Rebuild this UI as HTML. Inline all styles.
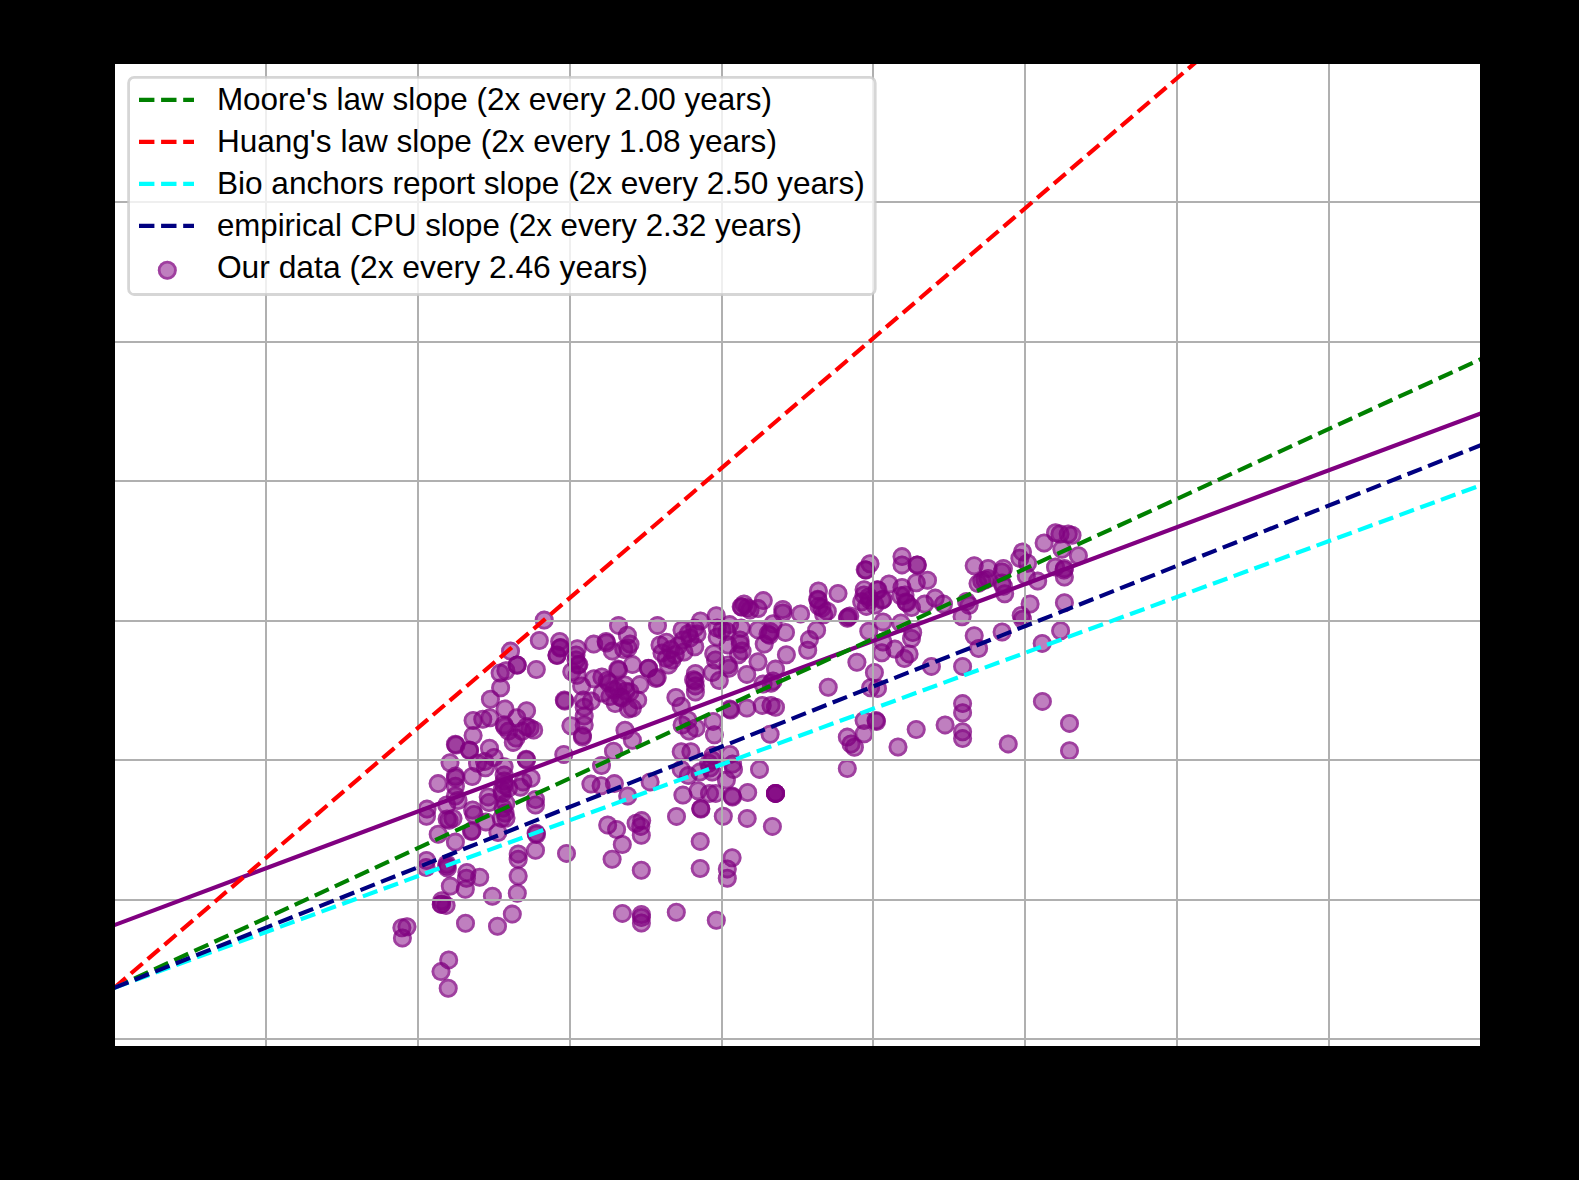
<!DOCTYPE html>
<html><head><meta charset="utf-8"><style>
html,body{margin:0;padding:0;background:#000;width:1579px;height:1180px;overflow:hidden}
svg{display:block;font-family:"Liberation Sans",sans-serif}
</style></head><body>
<svg width="1579" height="1180" viewBox="0 0 1579 1180">
<defs><clipPath id="ax"><rect x="115" y="64" width="1365" height="982"/></clipPath></defs>
<rect x="0" y="0" width="1579" height="1180" fill="#000"/>
<rect x="115" y="64" width="1365" height="982" fill="#fff"/>
<g clip-path="url(#ax)">
<g fill="#800080" fill-opacity="0.5">
<circle cx="401.9" cy="927.8" r="9.5"/>
<circle cx="407.0" cy="926.8" r="9.5"/>
<circle cx="402.4" cy="938.0" r="9.5"/>
<circle cx="441.7" cy="900.7" r="9.5"/>
<circle cx="441.2" cy="904.4" r="9.5"/>
<circle cx="441.5" cy="904.0" r="9.5"/>
<circle cx="446.1" cy="905.4" r="9.5"/>
<circle cx="450.3" cy="886.1" r="9.5"/>
<circle cx="465.3" cy="889.2" r="9.5"/>
<circle cx="492.4" cy="896.3" r="9.5"/>
<circle cx="517.3" cy="893.2" r="9.5"/>
<circle cx="512.3" cy="914.1" r="9.5"/>
<circle cx="497.5" cy="926.3" r="9.5"/>
<circle cx="465.5" cy="923.2" r="9.5"/>
<circle cx="448.7" cy="959.9" r="9.5"/>
<circle cx="441.0" cy="971.6" r="9.5"/>
<circle cx="448.2" cy="988.3" r="9.5"/>
<circle cx="622.4" cy="913.4" r="9.5"/>
<circle cx="641.4" cy="914.5" r="9.5"/>
<circle cx="641.4" cy="917.5" r="9.5"/>
<circle cx="641.4" cy="923.0" r="9.5"/>
<circle cx="676.3" cy="912.2" r="9.5"/>
<circle cx="716.3" cy="920.3" r="9.5"/>
<circle cx="427.0" cy="809.1" r="9.5"/>
<circle cx="426.5" cy="816.2" r="9.5"/>
<circle cx="426.5" cy="860.5" r="9.5"/>
<circle cx="426.1" cy="867.6" r="9.5"/>
<circle cx="447.1" cy="819.0" r="9.5"/>
<circle cx="449.1" cy="820.2" r="9.5"/>
<circle cx="453.0" cy="818.4" r="9.5"/>
<circle cx="438.2" cy="834.3" r="9.5"/>
<circle cx="455.4" cy="842.1" r="9.5"/>
<circle cx="472.0" cy="830.8" r="9.5"/>
<circle cx="472.6" cy="810.0" r="9.5"/>
<circle cx="474.0" cy="814.4" r="9.5"/>
<circle cx="485.9" cy="821.9" r="9.5"/>
<circle cx="505.0" cy="813.1" r="9.5"/>
<circle cx="501.5" cy="818.4" r="9.5"/>
<circle cx="497.9" cy="832.6" r="9.5"/>
<circle cx="446.9" cy="864.0" r="9.5"/>
<circle cx="447.4" cy="868.0" r="9.5"/>
<circle cx="466.9" cy="872.5" r="9.5"/>
<circle cx="466.4" cy="878.2" r="9.5"/>
<circle cx="479.7" cy="877.3" r="9.5"/>
<circle cx="518.2" cy="853.9" r="9.5"/>
<circle cx="518.2" cy="859.2" r="9.5"/>
<circle cx="518.2" cy="876.0" r="9.5"/>
<circle cx="536.1" cy="833.2" r="9.5"/>
<circle cx="536.5" cy="834.5" r="9.5"/>
<circle cx="535.5" cy="850.3" r="9.5"/>
<circle cx="566.5" cy="853.4" r="9.5"/>
<circle cx="607.7" cy="825.0" r="9.5"/>
<circle cx="616.6" cy="829.5" r="9.5"/>
<circle cx="622.3" cy="844.5" r="9.5"/>
<circle cx="612.1" cy="859.2" r="9.5"/>
<circle cx="636.1" cy="823.3" r="9.5"/>
<circle cx="641.7" cy="820.6" r="9.5"/>
<circle cx="640.8" cy="826.4" r="9.5"/>
<circle cx="641.3" cy="835.2" r="9.5"/>
<circle cx="641.3" cy="870.3" r="9.5"/>
<circle cx="676.5" cy="816.4" r="9.5"/>
<circle cx="700.7" cy="808.6" r="9.5"/>
<circle cx="700.9" cy="809.0" r="9.5"/>
<circle cx="723.3" cy="816.2" r="9.5"/>
<circle cx="747.2" cy="818.4" r="9.5"/>
<circle cx="700.2" cy="841.4" r="9.5"/>
<circle cx="700.2" cy="868.5" r="9.5"/>
<circle cx="732.1" cy="857.8" r="9.5"/>
<circle cx="727.3" cy="868.9" r="9.5"/>
<circle cx="727.3" cy="878.2" r="9.5"/>
<circle cx="772.4" cy="826.4" r="9.5"/>
<circle cx="455.4" cy="744.2" r="9.5"/>
<circle cx="456.0" cy="745.0" r="9.5"/>
<circle cx="469.5" cy="749.9" r="9.5"/>
<circle cx="489.5" cy="748.2" r="9.5"/>
<circle cx="450.0" cy="762.8" r="9.5"/>
<circle cx="455.4" cy="776.1" r="9.5"/>
<circle cx="455.6" cy="778.0" r="9.5"/>
<circle cx="438.1" cy="783.6" r="9.5"/>
<circle cx="472.2" cy="776.5" r="9.5"/>
<circle cx="477.5" cy="763.2" r="9.5"/>
<circle cx="484.6" cy="761.5" r="9.5"/>
<circle cx="494.0" cy="757.5" r="9.5"/>
<circle cx="485.5" cy="767.7" r="9.5"/>
<circle cx="504.1" cy="766.8" r="9.5"/>
<circle cx="455.4" cy="786.3" r="9.5"/>
<circle cx="455.4" cy="796.0" r="9.5"/>
<circle cx="504.1" cy="781.0" r="9.5"/>
<circle cx="508.5" cy="788.1" r="9.5"/>
<circle cx="502.3" cy="793.4" r="9.5"/>
<circle cx="504.1" cy="775.1" r="9.5"/>
<circle cx="488.2" cy="796.9" r="9.5"/>
<circle cx="489.0" cy="802.5" r="9.5"/>
<circle cx="446.7" cy="805.0" r="9.5"/>
<circle cx="458.0" cy="800.5" r="9.5"/>
<circle cx="505.9" cy="803.3" r="9.5"/>
<circle cx="513.3" cy="742.4" r="9.5"/>
<circle cx="516.0" cy="738.0" r="9.5"/>
<circle cx="526.2" cy="759.2" r="9.5"/>
<circle cx="526.5" cy="760.0" r="9.5"/>
<circle cx="563.8" cy="754.4" r="9.5"/>
<circle cx="523.0" cy="781.9" r="9.5"/>
<circle cx="531.0" cy="778.3" r="9.5"/>
<circle cx="520.4" cy="787.2" r="9.5"/>
<circle cx="535.5" cy="799.5" r="9.5"/>
<circle cx="535.5" cy="805.0" r="9.5"/>
<circle cx="582.4" cy="737.1" r="9.5"/>
<circle cx="613.5" cy="751.3" r="9.5"/>
<circle cx="601.5" cy="765.5" r="9.5"/>
<circle cx="590.9" cy="784.1" r="9.5"/>
<circle cx="601.1" cy="785.8" r="9.5"/>
<circle cx="614.4" cy="783.6" r="9.5"/>
<circle cx="627.7" cy="796.0" r="9.5"/>
<circle cx="632.4" cy="740.2" r="9.5"/>
<circle cx="681.2" cy="751.7" r="9.5"/>
<circle cx="690.9" cy="751.7" r="9.5"/>
<circle cx="713.1" cy="755.3" r="9.5"/>
<circle cx="712.2" cy="772.1" r="9.5"/>
<circle cx="708.7" cy="763.2" r="9.5"/>
<circle cx="729.9" cy="754.4" r="9.5"/>
<circle cx="732.6" cy="764.1" r="9.5"/>
<circle cx="733.5" cy="769.4" r="9.5"/>
<circle cx="681.2" cy="769.4" r="9.5"/>
<circle cx="688.3" cy="775.6" r="9.5"/>
<circle cx="699.8" cy="772.1" r="9.5"/>
<circle cx="726.4" cy="780.1" r="9.5"/>
<circle cx="650.1" cy="781.9" r="9.5"/>
<circle cx="682.9" cy="795.1" r="9.5"/>
<circle cx="698.0" cy="790.7" r="9.5"/>
<circle cx="709.5" cy="793.4" r="9.5"/>
<circle cx="715.7" cy="793.4" r="9.5"/>
<circle cx="732.1" cy="796.0" r="9.5"/>
<circle cx="732.5" cy="797.0" r="9.5"/>
<circle cx="747.7" cy="792.5" r="9.5"/>
<circle cx="775.5" cy="793.4" r="9.5"/>
<circle cx="775.5" cy="793.4" r="9.5"/>
<circle cx="775.5" cy="793.4" r="9.5"/>
<circle cx="775.5" cy="793.4" r="9.5"/>
<circle cx="759.5" cy="769.4" r="9.5"/>
<circle cx="847.3" cy="737.1" r="9.5"/>
<circle cx="854.4" cy="747.3" r="9.5"/>
<circle cx="851.0" cy="744.0" r="9.5"/>
<circle cx="847.3" cy="768.6" r="9.5"/>
<circle cx="874.4" cy="672.5" r="9.5"/>
<circle cx="870.6" cy="687.7" r="9.5"/>
<circle cx="877.5" cy="688.4" r="9.5"/>
<circle cx="876.0" cy="720.4" r="9.5"/>
<circle cx="876.5" cy="721.5" r="9.5"/>
<circle cx="931.4" cy="666.4" r="9.5"/>
<circle cx="962.6" cy="666.4" r="9.5"/>
<circle cx="898.0" cy="747.0" r="9.5"/>
<circle cx="916.2" cy="729.5" r="9.5"/>
<circle cx="945.1" cy="724.9" r="9.5"/>
<circle cx="962.6" cy="703.6" r="9.5"/>
<circle cx="962.6" cy="712.8" r="9.5"/>
<circle cx="962.6" cy="731.8" r="9.5"/>
<circle cx="962.6" cy="738.6" r="9.5"/>
<circle cx="1008.2" cy="743.9" r="9.5"/>
<circle cx="1042.4" cy="701.4" r="9.5"/>
<circle cx="1069.5" cy="723.4" r="9.5"/>
<circle cx="1069.5" cy="750.8" r="9.5"/>
<circle cx="500.1" cy="673.1" r="9.5"/>
<circle cx="505.9" cy="670.8" r="9.5"/>
<circle cx="500.6" cy="687.7" r="9.5"/>
<circle cx="490.4" cy="699.2" r="9.5"/>
<circle cx="505.0" cy="709.0" r="9.5"/>
<circle cx="473.1" cy="720.5" r="9.5"/>
<circle cx="482.8" cy="719.2" r="9.5"/>
<circle cx="489.9" cy="717.8" r="9.5"/>
<circle cx="473.1" cy="735.6" r="9.5"/>
<circle cx="504.1" cy="724.9" r="9.5"/>
<circle cx="508.5" cy="731.1" r="9.5"/>
<circle cx="517.3" cy="665.1" r="9.5"/>
<circle cx="536.3" cy="669.5" r="9.5"/>
<circle cx="526.6" cy="710.7" r="9.5"/>
<circle cx="516.8" cy="717.8" r="9.5"/>
<circle cx="526.6" cy="726.7" r="9.5"/>
<circle cx="533.7" cy="730.0" r="9.5"/>
<circle cx="522.2" cy="731.3" r="9.5"/>
<circle cx="564.3" cy="700.1" r="9.5"/>
<circle cx="564.8" cy="701.0" r="9.5"/>
<circle cx="578.9" cy="664.6" r="9.5"/>
<circle cx="571.8" cy="671.7" r="9.5"/>
<circle cx="577.1" cy="675.3" r="9.5"/>
<circle cx="581.6" cy="685.9" r="9.5"/>
<circle cx="594.0" cy="678.8" r="9.5"/>
<circle cx="601.9" cy="677.0" r="9.5"/>
<circle cx="607.3" cy="680.6" r="9.5"/>
<circle cx="617.9" cy="669.1" r="9.5"/>
<circle cx="618.5" cy="670.0" r="9.5"/>
<circle cx="583.3" cy="700.1" r="9.5"/>
<circle cx="584.2" cy="707.2" r="9.5"/>
<circle cx="584.2" cy="716.1" r="9.5"/>
<circle cx="584.2" cy="724.9" r="9.5"/>
<circle cx="582.4" cy="735.6" r="9.5"/>
<circle cx="570.9" cy="725.8" r="9.5"/>
<circle cx="591.3" cy="701.0" r="9.5"/>
<circle cx="609.0" cy="683.3" r="9.5"/>
<circle cx="617.9" cy="687.7" r="9.5"/>
<circle cx="625.9" cy="691.2" r="9.5"/>
<circle cx="609.9" cy="696.6" r="9.5"/>
<circle cx="615.2" cy="703.6" r="9.5"/>
<circle cx="628.5" cy="709.0" r="9.5"/>
<circle cx="602.0" cy="693.0" r="9.5"/>
<circle cx="625.0" cy="730.2" r="9.5"/>
<circle cx="614.0" cy="690.0" r="9.5"/>
<circle cx="620.0" cy="697.0" r="9.5"/>
<circle cx="632.4" cy="664.6" r="9.5"/>
<circle cx="640.0" cy="684.6" r="9.5"/>
<circle cx="637.7" cy="700.1" r="9.5"/>
<circle cx="632.4" cy="708.1" r="9.5"/>
<circle cx="648.4" cy="668.2" r="9.5"/>
<circle cx="657.2" cy="677.5" r="9.5"/>
<circle cx="695.4" cy="673.5" r="9.5"/>
<circle cx="693.6" cy="679.7" r="9.5"/>
<circle cx="695.0" cy="681.0" r="9.5"/>
<circle cx="695.4" cy="685.9" r="9.5"/>
<circle cx="695.4" cy="692.1" r="9.5"/>
<circle cx="675.9" cy="697.4" r="9.5"/>
<circle cx="681.2" cy="706.3" r="9.5"/>
<circle cx="712.2" cy="672.6" r="9.5"/>
<circle cx="719.3" cy="680.6" r="9.5"/>
<circle cx="729.0" cy="668.2" r="9.5"/>
<circle cx="746.8" cy="674.4" r="9.5"/>
<circle cx="729.9" cy="709.0" r="9.5"/>
<circle cx="730.5" cy="710.0" r="9.5"/>
<circle cx="746.8" cy="708.1" r="9.5"/>
<circle cx="682.1" cy="725.0" r="9.5"/>
<circle cx="689.1" cy="731.1" r="9.5"/>
<circle cx="696.0" cy="728.0" r="9.5"/>
<circle cx="688.0" cy="720.0" r="9.5"/>
<circle cx="713.1" cy="721.4" r="9.5"/>
<circle cx="714.4" cy="734.7" r="9.5"/>
<circle cx="775.5" cy="669.1" r="9.5"/>
<circle cx="771.0" cy="683.3" r="9.5"/>
<circle cx="773.0" cy="681.0" r="9.5"/>
<circle cx="763.0" cy="684.1" r="9.5"/>
<circle cx="828.2" cy="687.2" r="9.5"/>
<circle cx="762.2" cy="705.4" r="9.5"/>
<circle cx="771.0" cy="705.4" r="9.5"/>
<circle cx="775.5" cy="707.2" r="9.5"/>
<circle cx="770.1" cy="734.2" r="9.5"/>
<circle cx="864.1" cy="720.5" r="9.5"/>
<circle cx="864.1" cy="733.8" r="9.5"/>
<circle cx="544.2" cy="620.1" r="9.5"/>
<circle cx="539.3" cy="640.5" r="9.5"/>
<circle cx="510.5" cy="651.1" r="9.5"/>
<circle cx="559.7" cy="641.4" r="9.5"/>
<circle cx="560.6" cy="647.6" r="9.5"/>
<circle cx="557.0" cy="655.6" r="9.5"/>
<circle cx="577.3" cy="648.7" r="9.5"/>
<circle cx="576.0" cy="655.0" r="9.5"/>
<circle cx="593.7" cy="644.1" r="9.5"/>
<circle cx="606.1" cy="641.4" r="9.5"/>
<circle cx="606.5" cy="643.0" r="9.5"/>
<circle cx="612.3" cy="651.1" r="9.5"/>
<circle cx="618.5" cy="625.4" r="9.5"/>
<circle cx="627.4" cy="635.2" r="9.5"/>
<circle cx="630.0" cy="644.1" r="9.5"/>
<circle cx="628.0" cy="648.0" r="9.5"/>
<circle cx="623.8" cy="649.4" r="9.5"/>
<circle cx="657.5" cy="625.4" r="9.5"/>
<circle cx="666.4" cy="642.3" r="9.5"/>
<circle cx="662.0" cy="652.9" r="9.5"/>
<circle cx="670.8" cy="649.4" r="9.5"/>
<circle cx="675.2" cy="654.7" r="9.5"/>
<circle cx="666.4" cy="658.2" r="9.5"/>
<circle cx="683.0" cy="640.0" r="9.5"/>
<circle cx="668.5" cy="665.0" r="9.5"/>
<circle cx="700.4" cy="621.0" r="9.5"/>
<circle cx="716.3" cy="615.7" r="9.5"/>
<circle cx="688.5" cy="633.4" r="9.5"/>
<circle cx="694.8" cy="646.7" r="9.5"/>
<circle cx="694.8" cy="628.1" r="9.5"/>
<circle cx="717.2" cy="628.1" r="9.5"/>
<circle cx="727.0" cy="631.6" r="9.5"/>
<circle cx="717.2" cy="637.0" r="9.5"/>
<circle cx="729.6" cy="624.6" r="9.5"/>
<circle cx="741.2" cy="606.8" r="9.5"/>
<circle cx="747.4" cy="607.7" r="9.5"/>
<circle cx="758.0" cy="608.6" r="9.5"/>
<circle cx="744.0" cy="604.0" r="9.5"/>
<circle cx="763.3" cy="600.6" r="9.5"/>
<circle cx="741.2" cy="628.1" r="9.5"/>
<circle cx="758.0" cy="629.9" r="9.5"/>
<circle cx="770.4" cy="631.6" r="9.5"/>
<circle cx="773.1" cy="623.7" r="9.5"/>
<circle cx="782.8" cy="609.5" r="9.5"/>
<circle cx="782.8" cy="613.0" r="9.5"/>
<circle cx="800.6" cy="613.9" r="9.5"/>
<circle cx="785.5" cy="632.5" r="9.5"/>
<circle cx="769.5" cy="635.2" r="9.5"/>
<circle cx="764.2" cy="644.1" r="9.5"/>
<circle cx="740.3" cy="644.1" r="9.5"/>
<circle cx="742.1" cy="651.1" r="9.5"/>
<circle cx="738.5" cy="654.7" r="9.5"/>
<circle cx="713.7" cy="653.8" r="9.5"/>
<circle cx="715.5" cy="660.0" r="9.5"/>
<circle cx="758.0" cy="661.8" r="9.5"/>
<circle cx="786.4" cy="654.7" r="9.5"/>
<circle cx="809.4" cy="639.6" r="9.5"/>
<circle cx="807.7" cy="650.3" r="9.5"/>
<circle cx="818.4" cy="591.0" r="9.5"/>
<circle cx="817.8" cy="599.3" r="9.5"/>
<circle cx="819.0" cy="606.4" r="9.5"/>
<circle cx="827.3" cy="611.2" r="9.5"/>
<circle cx="823.7" cy="614.7" r="9.5"/>
<circle cx="838.0" cy="593.4" r="9.5"/>
<circle cx="847.4" cy="618.3" r="9.5"/>
<circle cx="849.8" cy="615.9" r="9.5"/>
<circle cx="816.6" cy="630.2" r="9.5"/>
<circle cx="870.0" cy="563.7" r="9.5"/>
<circle cx="865.2" cy="569.7" r="9.5"/>
<circle cx="864.1" cy="589.8" r="9.5"/>
<circle cx="868.8" cy="596.9" r="9.5"/>
<circle cx="861.7" cy="601.7" r="9.5"/>
<circle cx="866.4" cy="606.4" r="9.5"/>
<circle cx="877.1" cy="589.8" r="9.5"/>
<circle cx="883.0" cy="599.3" r="9.5"/>
<circle cx="889.0" cy="583.9" r="9.5"/>
<circle cx="902.0" cy="556.6" r="9.5"/>
<circle cx="902.0" cy="564.9" r="9.5"/>
<circle cx="917.4" cy="564.9" r="9.5"/>
<circle cx="916.3" cy="582.7" r="9.5"/>
<circle cx="927.5" cy="580.3" r="9.5"/>
<circle cx="900.8" cy="595.8" r="9.5"/>
<circle cx="906.8" cy="602.9" r="9.5"/>
<circle cx="911.5" cy="607.6" r="9.5"/>
<circle cx="902.0" cy="587.4" r="9.5"/>
<circle cx="924.6" cy="604.1" r="9.5"/>
<circle cx="935.2" cy="598.1" r="9.5"/>
<circle cx="943.5" cy="604.1" r="9.5"/>
<circle cx="868.8" cy="631.3" r="9.5"/>
<circle cx="883.0" cy="621.9" r="9.5"/>
<circle cx="900.8" cy="623.0" r="9.5"/>
<circle cx="912.7" cy="632.5" r="9.5"/>
<circle cx="911.5" cy="638.5" r="9.5"/>
<circle cx="883.0" cy="642.0" r="9.5"/>
<circle cx="881.8" cy="652.7" r="9.5"/>
<circle cx="894.9" cy="649.1" r="9.5"/>
<circle cx="904.4" cy="658.6" r="9.5"/>
<circle cx="909.1" cy="653.9" r="9.5"/>
<circle cx="856.9" cy="662.2" r="9.5"/>
<circle cx="974.2" cy="565.8" r="9.5"/>
<circle cx="988.1" cy="568.4" r="9.5"/>
<circle cx="1003.4" cy="568.4" r="9.5"/>
<circle cx="1002.0" cy="572.0" r="9.5"/>
<circle cx="981.8" cy="581.1" r="9.5"/>
<circle cx="988.1" cy="578.6" r="9.5"/>
<circle cx="978.0" cy="583.6" r="9.5"/>
<circle cx="1003.4" cy="586.2" r="9.5"/>
<circle cx="1004.7" cy="593.8" r="9.5"/>
<circle cx="966.5" cy="601.4" r="9.5"/>
<circle cx="969.1" cy="605.3" r="9.5"/>
<circle cx="962.1" cy="616.7" r="9.5"/>
<circle cx="1022.5" cy="551.9" r="9.5"/>
<circle cx="1019.9" cy="558.2" r="9.5"/>
<circle cx="1027.5" cy="563.3" r="9.5"/>
<circle cx="1026.3" cy="576.0" r="9.5"/>
<circle cx="1037.7" cy="581.1" r="9.5"/>
<circle cx="1044.1" cy="543.0" r="9.5"/>
<circle cx="1055.5" cy="532.8" r="9.5"/>
<circle cx="1068.2" cy="534.1" r="9.5"/>
<circle cx="1072.0" cy="535.3" r="9.5"/>
<circle cx="1061.9" cy="549.3" r="9.5"/>
<circle cx="1078.4" cy="555.7" r="9.5"/>
<circle cx="1055.5" cy="567.1" r="9.5"/>
<circle cx="1064.4" cy="568.4" r="9.5"/>
<circle cx="1064.4" cy="577.0" r="9.5"/>
<circle cx="1030.1" cy="604.0" r="9.5"/>
<circle cx="1021.2" cy="615.4" r="9.5"/>
<circle cx="1022.5" cy="619.2" r="9.5"/>
<circle cx="1064.4" cy="602.7" r="9.5"/>
<circle cx="1002.1" cy="632.0" r="9.5"/>
<circle cx="974.2" cy="635.8" r="9.5"/>
<circle cx="978.6" cy="648.5" r="9.5"/>
<circle cx="1042.2" cy="643.4" r="9.5"/>
<circle cx="1060.6" cy="630.7" r="9.5"/>
<circle cx="678.0" cy="646.0" r="9.5"/>
<circle cx="672.0" cy="660.0" r="9.5"/>
<circle cx="684.0" cy="652.0" r="9.5"/>
<circle cx="660.0" cy="645.0" r="9.5"/>
<circle cx="690.0" cy="638.0" r="9.5"/>
<circle cx="697.0" cy="634.0" r="9.5"/>
<circle cx="682.0" cy="630.0" r="9.5"/>
<circle cx="648.5" cy="668.5" r="9.5"/>
<circle cx="625.0" cy="685.0" r="9.5"/>
<circle cx="630.0" cy="692.0" r="9.5"/>
<circle cx="622.0" cy="698.0" r="9.5"/>
<circle cx="656.0" cy="678.5" r="9.5"/>
<circle cx="517.0" cy="665.0" r="9.5"/>
<circle cx="505.0" cy="727.0" r="9.5"/>
<circle cx="530.0" cy="728.0" r="9.5"/>
<circle cx="742.0" cy="607.0" r="9.5"/>
<circle cx="750.0" cy="610.0" r="9.5"/>
<circle cx="818.0" cy="600.0" r="9.5"/>
<circle cx="822.0" cy="608.0" r="9.5"/>
<circle cx="866.0" cy="570.0" r="9.5"/>
<circle cx="864.0" cy="595.0" r="9.5"/>
<circle cx="870.0" cy="600.0" r="9.5"/>
<circle cx="722.0" cy="630.0" r="9.5"/>
<circle cx="740.0" cy="640.0" r="9.5"/>
<circle cx="768.0" cy="634.0" r="9.5"/>
<circle cx="728.0" cy="645.0" r="9.5"/>
<circle cx="848.0" cy="617.0" r="9.5"/>
<circle cx="917.0" cy="565.0" r="9.5"/>
<circle cx="906.0" cy="602.0" r="9.5"/>
<circle cx="985.0" cy="580.0" r="9.5"/>
<circle cx="1002.0" cy="583.0" r="9.5"/>
<circle cx="1060.0" cy="534.0" r="9.5"/>
<circle cx="1064.0" cy="570.0" r="9.5"/>
<circle cx="504.0" cy="785.0" r="9.5"/>
<circle cx="502.0" cy="790.0" r="9.5"/>
<circle cx="446.8" cy="866.0" r="9.5"/>
<circle cx="471.5" cy="831.5" r="9.5"/>
<circle cx="503.0" cy="808.0" r="9.5"/>
<circle cx="506.0" cy="818.0" r="9.5"/>
<circle cx="469.5" cy="750.5" r="9.5"/>
<circle cx="712.0" cy="760.0" r="9.5"/>
<circle cx="710.0" cy="768.0" r="9.5"/>
<circle cx="728.0" cy="665.0" r="9.5"/>
<circle cx="878.0" cy="590.0" r="9.5"/>
<circle cx="882.0" cy="600.0" r="9.5"/>
<circle cx="875.0" cy="605.0" r="9.5"/>
<circle cx="905.0" cy="595.0" r="9.5"/>
<circle cx="560.0" cy="648.0" r="9.5"/>
<circle cx="557.0" cy="655.0" r="9.5"/>
<circle cx="578.0" cy="665.0" r="9.5"/>
<circle cx="576.0" cy="660.0" r="9.5"/>
</g>
<g fill="none" stroke="#800080" stroke-opacity="0.5" stroke-width="2.8">
<circle cx="401.9" cy="927.8" r="8.1"/>
<circle cx="407.0" cy="926.8" r="8.1"/>
<circle cx="402.4" cy="938.0" r="8.1"/>
<circle cx="441.7" cy="900.7" r="8.1"/>
<circle cx="441.2" cy="904.4" r="8.1"/>
<circle cx="441.5" cy="904.0" r="8.1"/>
<circle cx="446.1" cy="905.4" r="8.1"/>
<circle cx="450.3" cy="886.1" r="8.1"/>
<circle cx="465.3" cy="889.2" r="8.1"/>
<circle cx="492.4" cy="896.3" r="8.1"/>
<circle cx="517.3" cy="893.2" r="8.1"/>
<circle cx="512.3" cy="914.1" r="8.1"/>
<circle cx="497.5" cy="926.3" r="8.1"/>
<circle cx="465.5" cy="923.2" r="8.1"/>
<circle cx="448.7" cy="959.9" r="8.1"/>
<circle cx="441.0" cy="971.6" r="8.1"/>
<circle cx="448.2" cy="988.3" r="8.1"/>
<circle cx="622.4" cy="913.4" r="8.1"/>
<circle cx="641.4" cy="914.5" r="8.1"/>
<circle cx="641.4" cy="917.5" r="8.1"/>
<circle cx="641.4" cy="923.0" r="8.1"/>
<circle cx="676.3" cy="912.2" r="8.1"/>
<circle cx="716.3" cy="920.3" r="8.1"/>
<circle cx="427.0" cy="809.1" r="8.1"/>
<circle cx="426.5" cy="816.2" r="8.1"/>
<circle cx="426.5" cy="860.5" r="8.1"/>
<circle cx="426.1" cy="867.6" r="8.1"/>
<circle cx="447.1" cy="819.0" r="8.1"/>
<circle cx="449.1" cy="820.2" r="8.1"/>
<circle cx="453.0" cy="818.4" r="8.1"/>
<circle cx="438.2" cy="834.3" r="8.1"/>
<circle cx="455.4" cy="842.1" r="8.1"/>
<circle cx="472.0" cy="830.8" r="8.1"/>
<circle cx="472.6" cy="810.0" r="8.1"/>
<circle cx="474.0" cy="814.4" r="8.1"/>
<circle cx="485.9" cy="821.9" r="8.1"/>
<circle cx="505.0" cy="813.1" r="8.1"/>
<circle cx="501.5" cy="818.4" r="8.1"/>
<circle cx="497.9" cy="832.6" r="8.1"/>
<circle cx="446.9" cy="864.0" r="8.1"/>
<circle cx="447.4" cy="868.0" r="8.1"/>
<circle cx="466.9" cy="872.5" r="8.1"/>
<circle cx="466.4" cy="878.2" r="8.1"/>
<circle cx="479.7" cy="877.3" r="8.1"/>
<circle cx="518.2" cy="853.9" r="8.1"/>
<circle cx="518.2" cy="859.2" r="8.1"/>
<circle cx="518.2" cy="876.0" r="8.1"/>
<circle cx="536.1" cy="833.2" r="8.1"/>
<circle cx="536.5" cy="834.5" r="8.1"/>
<circle cx="535.5" cy="850.3" r="8.1"/>
<circle cx="566.5" cy="853.4" r="8.1"/>
<circle cx="607.7" cy="825.0" r="8.1"/>
<circle cx="616.6" cy="829.5" r="8.1"/>
<circle cx="622.3" cy="844.5" r="8.1"/>
<circle cx="612.1" cy="859.2" r="8.1"/>
<circle cx="636.1" cy="823.3" r="8.1"/>
<circle cx="641.7" cy="820.6" r="8.1"/>
<circle cx="640.8" cy="826.4" r="8.1"/>
<circle cx="641.3" cy="835.2" r="8.1"/>
<circle cx="641.3" cy="870.3" r="8.1"/>
<circle cx="676.5" cy="816.4" r="8.1"/>
<circle cx="700.7" cy="808.6" r="8.1"/>
<circle cx="700.9" cy="809.0" r="8.1"/>
<circle cx="723.3" cy="816.2" r="8.1"/>
<circle cx="747.2" cy="818.4" r="8.1"/>
<circle cx="700.2" cy="841.4" r="8.1"/>
<circle cx="700.2" cy="868.5" r="8.1"/>
<circle cx="732.1" cy="857.8" r="8.1"/>
<circle cx="727.3" cy="868.9" r="8.1"/>
<circle cx="727.3" cy="878.2" r="8.1"/>
<circle cx="772.4" cy="826.4" r="8.1"/>
<circle cx="455.4" cy="744.2" r="8.1"/>
<circle cx="456.0" cy="745.0" r="8.1"/>
<circle cx="469.5" cy="749.9" r="8.1"/>
<circle cx="489.5" cy="748.2" r="8.1"/>
<circle cx="450.0" cy="762.8" r="8.1"/>
<circle cx="455.4" cy="776.1" r="8.1"/>
<circle cx="455.6" cy="778.0" r="8.1"/>
<circle cx="438.1" cy="783.6" r="8.1"/>
<circle cx="472.2" cy="776.5" r="8.1"/>
<circle cx="477.5" cy="763.2" r="8.1"/>
<circle cx="484.6" cy="761.5" r="8.1"/>
<circle cx="494.0" cy="757.5" r="8.1"/>
<circle cx="485.5" cy="767.7" r="8.1"/>
<circle cx="504.1" cy="766.8" r="8.1"/>
<circle cx="455.4" cy="786.3" r="8.1"/>
<circle cx="455.4" cy="796.0" r="8.1"/>
<circle cx="504.1" cy="781.0" r="8.1"/>
<circle cx="508.5" cy="788.1" r="8.1"/>
<circle cx="502.3" cy="793.4" r="8.1"/>
<circle cx="504.1" cy="775.1" r="8.1"/>
<circle cx="488.2" cy="796.9" r="8.1"/>
<circle cx="489.0" cy="802.5" r="8.1"/>
<circle cx="446.7" cy="805.0" r="8.1"/>
<circle cx="458.0" cy="800.5" r="8.1"/>
<circle cx="505.9" cy="803.3" r="8.1"/>
<circle cx="513.3" cy="742.4" r="8.1"/>
<circle cx="516.0" cy="738.0" r="8.1"/>
<circle cx="526.2" cy="759.2" r="8.1"/>
<circle cx="526.5" cy="760.0" r="8.1"/>
<circle cx="563.8" cy="754.4" r="8.1"/>
<circle cx="523.0" cy="781.9" r="8.1"/>
<circle cx="531.0" cy="778.3" r="8.1"/>
<circle cx="520.4" cy="787.2" r="8.1"/>
<circle cx="535.5" cy="799.5" r="8.1"/>
<circle cx="535.5" cy="805.0" r="8.1"/>
<circle cx="582.4" cy="737.1" r="8.1"/>
<circle cx="613.5" cy="751.3" r="8.1"/>
<circle cx="601.5" cy="765.5" r="8.1"/>
<circle cx="590.9" cy="784.1" r="8.1"/>
<circle cx="601.1" cy="785.8" r="8.1"/>
<circle cx="614.4" cy="783.6" r="8.1"/>
<circle cx="627.7" cy="796.0" r="8.1"/>
<circle cx="632.4" cy="740.2" r="8.1"/>
<circle cx="681.2" cy="751.7" r="8.1"/>
<circle cx="690.9" cy="751.7" r="8.1"/>
<circle cx="713.1" cy="755.3" r="8.1"/>
<circle cx="712.2" cy="772.1" r="8.1"/>
<circle cx="708.7" cy="763.2" r="8.1"/>
<circle cx="729.9" cy="754.4" r="8.1"/>
<circle cx="732.6" cy="764.1" r="8.1"/>
<circle cx="733.5" cy="769.4" r="8.1"/>
<circle cx="681.2" cy="769.4" r="8.1"/>
<circle cx="688.3" cy="775.6" r="8.1"/>
<circle cx="699.8" cy="772.1" r="8.1"/>
<circle cx="726.4" cy="780.1" r="8.1"/>
<circle cx="650.1" cy="781.9" r="8.1"/>
<circle cx="682.9" cy="795.1" r="8.1"/>
<circle cx="698.0" cy="790.7" r="8.1"/>
<circle cx="709.5" cy="793.4" r="8.1"/>
<circle cx="715.7" cy="793.4" r="8.1"/>
<circle cx="732.1" cy="796.0" r="8.1"/>
<circle cx="732.5" cy="797.0" r="8.1"/>
<circle cx="747.7" cy="792.5" r="8.1"/>
<circle cx="775.5" cy="793.4" r="8.1"/>
<circle cx="775.5" cy="793.4" r="8.1"/>
<circle cx="775.5" cy="793.4" r="8.1"/>
<circle cx="775.5" cy="793.4" r="8.1"/>
<circle cx="759.5" cy="769.4" r="8.1"/>
<circle cx="847.3" cy="737.1" r="8.1"/>
<circle cx="854.4" cy="747.3" r="8.1"/>
<circle cx="851.0" cy="744.0" r="8.1"/>
<circle cx="847.3" cy="768.6" r="8.1"/>
<circle cx="874.4" cy="672.5" r="8.1"/>
<circle cx="870.6" cy="687.7" r="8.1"/>
<circle cx="877.5" cy="688.4" r="8.1"/>
<circle cx="876.0" cy="720.4" r="8.1"/>
<circle cx="876.5" cy="721.5" r="8.1"/>
<circle cx="931.4" cy="666.4" r="8.1"/>
<circle cx="962.6" cy="666.4" r="8.1"/>
<circle cx="898.0" cy="747.0" r="8.1"/>
<circle cx="916.2" cy="729.5" r="8.1"/>
<circle cx="945.1" cy="724.9" r="8.1"/>
<circle cx="962.6" cy="703.6" r="8.1"/>
<circle cx="962.6" cy="712.8" r="8.1"/>
<circle cx="962.6" cy="731.8" r="8.1"/>
<circle cx="962.6" cy="738.6" r="8.1"/>
<circle cx="1008.2" cy="743.9" r="8.1"/>
<circle cx="1042.4" cy="701.4" r="8.1"/>
<circle cx="1069.5" cy="723.4" r="8.1"/>
<circle cx="1069.5" cy="750.8" r="8.1"/>
<circle cx="500.1" cy="673.1" r="8.1"/>
<circle cx="505.9" cy="670.8" r="8.1"/>
<circle cx="500.6" cy="687.7" r="8.1"/>
<circle cx="490.4" cy="699.2" r="8.1"/>
<circle cx="505.0" cy="709.0" r="8.1"/>
<circle cx="473.1" cy="720.5" r="8.1"/>
<circle cx="482.8" cy="719.2" r="8.1"/>
<circle cx="489.9" cy="717.8" r="8.1"/>
<circle cx="473.1" cy="735.6" r="8.1"/>
<circle cx="504.1" cy="724.9" r="8.1"/>
<circle cx="508.5" cy="731.1" r="8.1"/>
<circle cx="517.3" cy="665.1" r="8.1"/>
<circle cx="536.3" cy="669.5" r="8.1"/>
<circle cx="526.6" cy="710.7" r="8.1"/>
<circle cx="516.8" cy="717.8" r="8.1"/>
<circle cx="526.6" cy="726.7" r="8.1"/>
<circle cx="533.7" cy="730.0" r="8.1"/>
<circle cx="522.2" cy="731.3" r="8.1"/>
<circle cx="564.3" cy="700.1" r="8.1"/>
<circle cx="564.8" cy="701.0" r="8.1"/>
<circle cx="578.9" cy="664.6" r="8.1"/>
<circle cx="571.8" cy="671.7" r="8.1"/>
<circle cx="577.1" cy="675.3" r="8.1"/>
<circle cx="581.6" cy="685.9" r="8.1"/>
<circle cx="594.0" cy="678.8" r="8.1"/>
<circle cx="601.9" cy="677.0" r="8.1"/>
<circle cx="607.3" cy="680.6" r="8.1"/>
<circle cx="617.9" cy="669.1" r="8.1"/>
<circle cx="618.5" cy="670.0" r="8.1"/>
<circle cx="583.3" cy="700.1" r="8.1"/>
<circle cx="584.2" cy="707.2" r="8.1"/>
<circle cx="584.2" cy="716.1" r="8.1"/>
<circle cx="584.2" cy="724.9" r="8.1"/>
<circle cx="582.4" cy="735.6" r="8.1"/>
<circle cx="570.9" cy="725.8" r="8.1"/>
<circle cx="591.3" cy="701.0" r="8.1"/>
<circle cx="609.0" cy="683.3" r="8.1"/>
<circle cx="617.9" cy="687.7" r="8.1"/>
<circle cx="625.9" cy="691.2" r="8.1"/>
<circle cx="609.9" cy="696.6" r="8.1"/>
<circle cx="615.2" cy="703.6" r="8.1"/>
<circle cx="628.5" cy="709.0" r="8.1"/>
<circle cx="602.0" cy="693.0" r="8.1"/>
<circle cx="625.0" cy="730.2" r="8.1"/>
<circle cx="614.0" cy="690.0" r="8.1"/>
<circle cx="620.0" cy="697.0" r="8.1"/>
<circle cx="632.4" cy="664.6" r="8.1"/>
<circle cx="640.0" cy="684.6" r="8.1"/>
<circle cx="637.7" cy="700.1" r="8.1"/>
<circle cx="632.4" cy="708.1" r="8.1"/>
<circle cx="648.4" cy="668.2" r="8.1"/>
<circle cx="657.2" cy="677.5" r="8.1"/>
<circle cx="695.4" cy="673.5" r="8.1"/>
<circle cx="693.6" cy="679.7" r="8.1"/>
<circle cx="695.0" cy="681.0" r="8.1"/>
<circle cx="695.4" cy="685.9" r="8.1"/>
<circle cx="695.4" cy="692.1" r="8.1"/>
<circle cx="675.9" cy="697.4" r="8.1"/>
<circle cx="681.2" cy="706.3" r="8.1"/>
<circle cx="712.2" cy="672.6" r="8.1"/>
<circle cx="719.3" cy="680.6" r="8.1"/>
<circle cx="729.0" cy="668.2" r="8.1"/>
<circle cx="746.8" cy="674.4" r="8.1"/>
<circle cx="729.9" cy="709.0" r="8.1"/>
<circle cx="730.5" cy="710.0" r="8.1"/>
<circle cx="746.8" cy="708.1" r="8.1"/>
<circle cx="682.1" cy="725.0" r="8.1"/>
<circle cx="689.1" cy="731.1" r="8.1"/>
<circle cx="696.0" cy="728.0" r="8.1"/>
<circle cx="688.0" cy="720.0" r="8.1"/>
<circle cx="713.1" cy="721.4" r="8.1"/>
<circle cx="714.4" cy="734.7" r="8.1"/>
<circle cx="775.5" cy="669.1" r="8.1"/>
<circle cx="771.0" cy="683.3" r="8.1"/>
<circle cx="773.0" cy="681.0" r="8.1"/>
<circle cx="763.0" cy="684.1" r="8.1"/>
<circle cx="828.2" cy="687.2" r="8.1"/>
<circle cx="762.2" cy="705.4" r="8.1"/>
<circle cx="771.0" cy="705.4" r="8.1"/>
<circle cx="775.5" cy="707.2" r="8.1"/>
<circle cx="770.1" cy="734.2" r="8.1"/>
<circle cx="864.1" cy="720.5" r="8.1"/>
<circle cx="864.1" cy="733.8" r="8.1"/>
<circle cx="544.2" cy="620.1" r="8.1"/>
<circle cx="539.3" cy="640.5" r="8.1"/>
<circle cx="510.5" cy="651.1" r="8.1"/>
<circle cx="559.7" cy="641.4" r="8.1"/>
<circle cx="560.6" cy="647.6" r="8.1"/>
<circle cx="557.0" cy="655.6" r="8.1"/>
<circle cx="577.3" cy="648.7" r="8.1"/>
<circle cx="576.0" cy="655.0" r="8.1"/>
<circle cx="593.7" cy="644.1" r="8.1"/>
<circle cx="606.1" cy="641.4" r="8.1"/>
<circle cx="606.5" cy="643.0" r="8.1"/>
<circle cx="612.3" cy="651.1" r="8.1"/>
<circle cx="618.5" cy="625.4" r="8.1"/>
<circle cx="627.4" cy="635.2" r="8.1"/>
<circle cx="630.0" cy="644.1" r="8.1"/>
<circle cx="628.0" cy="648.0" r="8.1"/>
<circle cx="623.8" cy="649.4" r="8.1"/>
<circle cx="657.5" cy="625.4" r="8.1"/>
<circle cx="666.4" cy="642.3" r="8.1"/>
<circle cx="662.0" cy="652.9" r="8.1"/>
<circle cx="670.8" cy="649.4" r="8.1"/>
<circle cx="675.2" cy="654.7" r="8.1"/>
<circle cx="666.4" cy="658.2" r="8.1"/>
<circle cx="683.0" cy="640.0" r="8.1"/>
<circle cx="668.5" cy="665.0" r="8.1"/>
<circle cx="700.4" cy="621.0" r="8.1"/>
<circle cx="716.3" cy="615.7" r="8.1"/>
<circle cx="688.5" cy="633.4" r="8.1"/>
<circle cx="694.8" cy="646.7" r="8.1"/>
<circle cx="694.8" cy="628.1" r="8.1"/>
<circle cx="717.2" cy="628.1" r="8.1"/>
<circle cx="727.0" cy="631.6" r="8.1"/>
<circle cx="717.2" cy="637.0" r="8.1"/>
<circle cx="729.6" cy="624.6" r="8.1"/>
<circle cx="741.2" cy="606.8" r="8.1"/>
<circle cx="747.4" cy="607.7" r="8.1"/>
<circle cx="758.0" cy="608.6" r="8.1"/>
<circle cx="744.0" cy="604.0" r="8.1"/>
<circle cx="763.3" cy="600.6" r="8.1"/>
<circle cx="741.2" cy="628.1" r="8.1"/>
<circle cx="758.0" cy="629.9" r="8.1"/>
<circle cx="770.4" cy="631.6" r="8.1"/>
<circle cx="773.1" cy="623.7" r="8.1"/>
<circle cx="782.8" cy="609.5" r="8.1"/>
<circle cx="782.8" cy="613.0" r="8.1"/>
<circle cx="800.6" cy="613.9" r="8.1"/>
<circle cx="785.5" cy="632.5" r="8.1"/>
<circle cx="769.5" cy="635.2" r="8.1"/>
<circle cx="764.2" cy="644.1" r="8.1"/>
<circle cx="740.3" cy="644.1" r="8.1"/>
<circle cx="742.1" cy="651.1" r="8.1"/>
<circle cx="738.5" cy="654.7" r="8.1"/>
<circle cx="713.7" cy="653.8" r="8.1"/>
<circle cx="715.5" cy="660.0" r="8.1"/>
<circle cx="758.0" cy="661.8" r="8.1"/>
<circle cx="786.4" cy="654.7" r="8.1"/>
<circle cx="809.4" cy="639.6" r="8.1"/>
<circle cx="807.7" cy="650.3" r="8.1"/>
<circle cx="818.4" cy="591.0" r="8.1"/>
<circle cx="817.8" cy="599.3" r="8.1"/>
<circle cx="819.0" cy="606.4" r="8.1"/>
<circle cx="827.3" cy="611.2" r="8.1"/>
<circle cx="823.7" cy="614.7" r="8.1"/>
<circle cx="838.0" cy="593.4" r="8.1"/>
<circle cx="847.4" cy="618.3" r="8.1"/>
<circle cx="849.8" cy="615.9" r="8.1"/>
<circle cx="816.6" cy="630.2" r="8.1"/>
<circle cx="870.0" cy="563.7" r="8.1"/>
<circle cx="865.2" cy="569.7" r="8.1"/>
<circle cx="864.1" cy="589.8" r="8.1"/>
<circle cx="868.8" cy="596.9" r="8.1"/>
<circle cx="861.7" cy="601.7" r="8.1"/>
<circle cx="866.4" cy="606.4" r="8.1"/>
<circle cx="877.1" cy="589.8" r="8.1"/>
<circle cx="883.0" cy="599.3" r="8.1"/>
<circle cx="889.0" cy="583.9" r="8.1"/>
<circle cx="902.0" cy="556.6" r="8.1"/>
<circle cx="902.0" cy="564.9" r="8.1"/>
<circle cx="917.4" cy="564.9" r="8.1"/>
<circle cx="916.3" cy="582.7" r="8.1"/>
<circle cx="927.5" cy="580.3" r="8.1"/>
<circle cx="900.8" cy="595.8" r="8.1"/>
<circle cx="906.8" cy="602.9" r="8.1"/>
<circle cx="911.5" cy="607.6" r="8.1"/>
<circle cx="902.0" cy="587.4" r="8.1"/>
<circle cx="924.6" cy="604.1" r="8.1"/>
<circle cx="935.2" cy="598.1" r="8.1"/>
<circle cx="943.5" cy="604.1" r="8.1"/>
<circle cx="868.8" cy="631.3" r="8.1"/>
<circle cx="883.0" cy="621.9" r="8.1"/>
<circle cx="900.8" cy="623.0" r="8.1"/>
<circle cx="912.7" cy="632.5" r="8.1"/>
<circle cx="911.5" cy="638.5" r="8.1"/>
<circle cx="883.0" cy="642.0" r="8.1"/>
<circle cx="881.8" cy="652.7" r="8.1"/>
<circle cx="894.9" cy="649.1" r="8.1"/>
<circle cx="904.4" cy="658.6" r="8.1"/>
<circle cx="909.1" cy="653.9" r="8.1"/>
<circle cx="856.9" cy="662.2" r="8.1"/>
<circle cx="974.2" cy="565.8" r="8.1"/>
<circle cx="988.1" cy="568.4" r="8.1"/>
<circle cx="1003.4" cy="568.4" r="8.1"/>
<circle cx="1002.0" cy="572.0" r="8.1"/>
<circle cx="981.8" cy="581.1" r="8.1"/>
<circle cx="988.1" cy="578.6" r="8.1"/>
<circle cx="978.0" cy="583.6" r="8.1"/>
<circle cx="1003.4" cy="586.2" r="8.1"/>
<circle cx="1004.7" cy="593.8" r="8.1"/>
<circle cx="966.5" cy="601.4" r="8.1"/>
<circle cx="969.1" cy="605.3" r="8.1"/>
<circle cx="962.1" cy="616.7" r="8.1"/>
<circle cx="1022.5" cy="551.9" r="8.1"/>
<circle cx="1019.9" cy="558.2" r="8.1"/>
<circle cx="1027.5" cy="563.3" r="8.1"/>
<circle cx="1026.3" cy="576.0" r="8.1"/>
<circle cx="1037.7" cy="581.1" r="8.1"/>
<circle cx="1044.1" cy="543.0" r="8.1"/>
<circle cx="1055.5" cy="532.8" r="8.1"/>
<circle cx="1068.2" cy="534.1" r="8.1"/>
<circle cx="1072.0" cy="535.3" r="8.1"/>
<circle cx="1061.9" cy="549.3" r="8.1"/>
<circle cx="1078.4" cy="555.7" r="8.1"/>
<circle cx="1055.5" cy="567.1" r="8.1"/>
<circle cx="1064.4" cy="568.4" r="8.1"/>
<circle cx="1064.4" cy="577.0" r="8.1"/>
<circle cx="1030.1" cy="604.0" r="8.1"/>
<circle cx="1021.2" cy="615.4" r="8.1"/>
<circle cx="1022.5" cy="619.2" r="8.1"/>
<circle cx="1064.4" cy="602.7" r="8.1"/>
<circle cx="1002.1" cy="632.0" r="8.1"/>
<circle cx="974.2" cy="635.8" r="8.1"/>
<circle cx="978.6" cy="648.5" r="8.1"/>
<circle cx="1042.2" cy="643.4" r="8.1"/>
<circle cx="1060.6" cy="630.7" r="8.1"/>
<circle cx="678.0" cy="646.0" r="8.1"/>
<circle cx="672.0" cy="660.0" r="8.1"/>
<circle cx="684.0" cy="652.0" r="8.1"/>
<circle cx="660.0" cy="645.0" r="8.1"/>
<circle cx="690.0" cy="638.0" r="8.1"/>
<circle cx="697.0" cy="634.0" r="8.1"/>
<circle cx="682.0" cy="630.0" r="8.1"/>
<circle cx="648.5" cy="668.5" r="8.1"/>
<circle cx="625.0" cy="685.0" r="8.1"/>
<circle cx="630.0" cy="692.0" r="8.1"/>
<circle cx="622.0" cy="698.0" r="8.1"/>
<circle cx="656.0" cy="678.5" r="8.1"/>
<circle cx="517.0" cy="665.0" r="8.1"/>
<circle cx="505.0" cy="727.0" r="8.1"/>
<circle cx="530.0" cy="728.0" r="8.1"/>
<circle cx="742.0" cy="607.0" r="8.1"/>
<circle cx="750.0" cy="610.0" r="8.1"/>
<circle cx="818.0" cy="600.0" r="8.1"/>
<circle cx="822.0" cy="608.0" r="8.1"/>
<circle cx="866.0" cy="570.0" r="8.1"/>
<circle cx="864.0" cy="595.0" r="8.1"/>
<circle cx="870.0" cy="600.0" r="8.1"/>
<circle cx="722.0" cy="630.0" r="8.1"/>
<circle cx="740.0" cy="640.0" r="8.1"/>
<circle cx="768.0" cy="634.0" r="8.1"/>
<circle cx="728.0" cy="645.0" r="8.1"/>
<circle cx="848.0" cy="617.0" r="8.1"/>
<circle cx="917.0" cy="565.0" r="8.1"/>
<circle cx="906.0" cy="602.0" r="8.1"/>
<circle cx="985.0" cy="580.0" r="8.1"/>
<circle cx="1002.0" cy="583.0" r="8.1"/>
<circle cx="1060.0" cy="534.0" r="8.1"/>
<circle cx="1064.0" cy="570.0" r="8.1"/>
<circle cx="504.0" cy="785.0" r="8.1"/>
<circle cx="502.0" cy="790.0" r="8.1"/>
<circle cx="446.8" cy="866.0" r="8.1"/>
<circle cx="471.5" cy="831.5" r="8.1"/>
<circle cx="503.0" cy="808.0" r="8.1"/>
<circle cx="506.0" cy="818.0" r="8.1"/>
<circle cx="469.5" cy="750.5" r="8.1"/>
<circle cx="712.0" cy="760.0" r="8.1"/>
<circle cx="710.0" cy="768.0" r="8.1"/>
<circle cx="728.0" cy="665.0" r="8.1"/>
<circle cx="878.0" cy="590.0" r="8.1"/>
<circle cx="882.0" cy="600.0" r="8.1"/>
<circle cx="875.0" cy="605.0" r="8.1"/>
<circle cx="905.0" cy="595.0" r="8.1"/>
<circle cx="560.0" cy="648.0" r="8.1"/>
<circle cx="557.0" cy="655.0" r="8.1"/>
<circle cx="578.0" cy="665.0" r="8.1"/>
<circle cx="576.0" cy="660.0" r="8.1"/>
</g>
<path d="M266 60V1050M418 60V1050M570 60V1050M722 60V1050M873 60V1050M1025 60V1050M1177 60V1050M1329 60V1050M110 202H1485M110 342H1485M110 481H1485M110 621H1485M110 760H1485M110 900H1485M110 1039H1485" stroke="#b0b0b0" stroke-width="2" fill="none"/>
<path d="M114.10 925.20L1480.90 413.33" stroke="#800080" stroke-width="4.17" fill="none"/>
<path d="M114.10 987.90L1480.90 359.04" stroke="#008000" stroke-width="4.17" fill="none" stroke-dasharray="15.42 6.67"/>
<path d="M114.10 987.90L1480.90 -181.81" stroke="#ff0000" stroke-width="4.17" fill="none" stroke-dasharray="15.42 6.67"/>
<path d="M114.10 987.90L1480.90 485.19" stroke="#00ffff" stroke-width="4.17" fill="none" stroke-dasharray="15.42 6.67"/>
<path d="M114.10 987.90L1480.90 445.14" stroke="#000080" stroke-width="4.17" fill="none" stroke-dasharray="15.42 6.67"/>
</g>
<rect x="128.6" y="77.4" width="746.6" height="217.1" rx="5.56" fill="#fff" fill-opacity="0.8" stroke="#cccccc" stroke-opacity="0.8" stroke-width="2.78"/>
<path d="M139.0 99.9H194.0" stroke="#008000" stroke-width="4.17" stroke-dasharray="15.42 6.67" fill="none"/>
<path d="M139.0 141.9H194.0" stroke="#ff0000" stroke-width="4.17" stroke-dasharray="15.42 6.67" fill="none"/>
<path d="M139.0 183.9H194.0" stroke="#00ffff" stroke-width="4.17" stroke-dasharray="15.42 6.67" fill="none"/>
<path d="M139.0 225.9H194.0" stroke="#000080" stroke-width="4.17" stroke-dasharray="15.42 6.67" fill="none"/>
<circle cx="167.3" cy="270.3" r="9.5" fill="#800080" fill-opacity="0.5"/><circle cx="167.3" cy="270.3" r="8.1" fill="none" stroke="#800080" stroke-opacity="0.5" stroke-width="2.8"/>
<text x="216.9" y="110" font-size="30.5" textLength="555" lengthAdjust="spacingAndGlyphs">Moore&#39;s law slope (2x every 2.00 years)</text>
<text x="216.9" y="152" font-size="30.5" textLength="560" lengthAdjust="spacingAndGlyphs">Huang&#39;s law slope (2x every 1.08 years)</text>
<text x="216.9" y="194" font-size="30.5" textLength="648" lengthAdjust="spacingAndGlyphs">Bio anchors report slope (2x every 2.50 years)</text>
<text x="216.9" y="236" font-size="30.5" textLength="585" lengthAdjust="spacingAndGlyphs">empirical CPU slope (2x every 2.32 years)</text>
<text x="216.9" y="278" font-size="30.5" textLength="431" lengthAdjust="spacingAndGlyphs">Our data (2x every 2.46 years)</text>
</svg>
</body></html>
